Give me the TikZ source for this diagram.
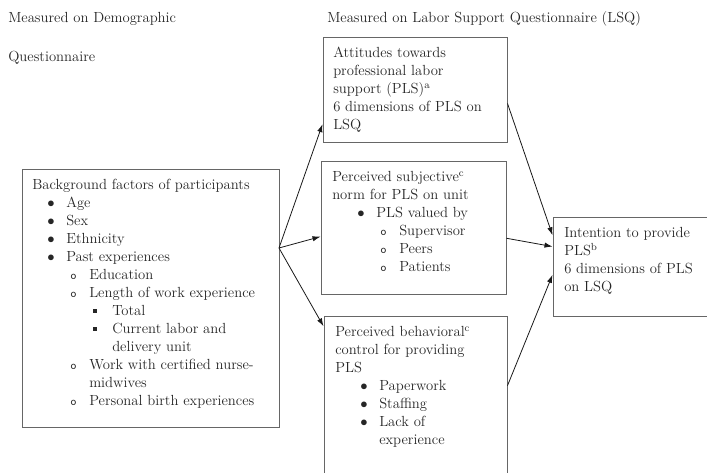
\documentclass[tikz,border=0pt]{standalone}
\usetikzlibrary{arrows.meta}

% one unit of the drawing grid
\newdimen\pxu \pxu=0.75pt
% list item: indent, marker, then the item text
\newcommand{\itm}[2]{\hspace*{#1\pxu}\makebox[19\pxu][l]{#2}}
\newcommand{\dotb}{$\bullet$}
\newcommand{\ringb}{{\fontsize{9}{9}\selectfont\ttfamily o}}
\newcommand{\sqb}{\rule[0.2em]{0.26em}{0.26em}}

\tikzset{
  box/.style={draw=black!60, line width=0.75pt, inner sep=0pt},
  txt/.style={anchor=north west, inner sep=0pt, align=left,
    font=\fontsize{11}{13.5}\selectfont, text=black!85},
  link/.style={-{Latex[length=6pt,width=4pt]}, line width=0.6pt, black!90}
}

\begin{document}
\begin{tikzpicture}[x=0.75pt,y=-0.75pt]
\useasboundingbox (0,0) rectangle (707,473);
\clip (0,0) rectangle (707,473);

% column headings
\node[txt] (demog) at (8,12) {Measured on Demographic};
\node[txt] (demogq) at (8,51) {Questionnaire};
\node[txt] (lsqhead) at (327,11) {Measured on Labor Support Questionnaire (LSQ)};

% boxes
\node[box, minimum width=257\pxu, minimum height=258\pxu] (bg) at (150.5,299) {};
\node[box, minimum width=184\pxu, minimum height=105\pxu] (att) at (415,90.5) {};
\node[box, minimum width=185\pxu, minimum height=133\pxu] (sub) at (413.5,228.5) {};
\node[box, minimum width=183\pxu, minimum height=173\pxu] (beh) at (415.5,403.5) {};
\node[box, minimum width=167\pxu, minimum height=99\pxu] (int) at (636.5,267.5) {};

% box texts
\node[txt] (bgtext) at (32,179) {Background factors of participants\\
\itm{15}{\dotb}Age\\
\itm{15}{\dotb}Sex\\
\itm{15}{\dotb}Ethnicity\\
\itm{15}{\dotb}Past experiences\\
\itm{38}{\ringb}Education\\
\itm{38}{\ringb}Length of work experience\\
\itm{61}{\sqb}Total\\
\itm{61}{\sqb}Current labor and\\
\hspace*{80\pxu}delivery unit\\
\itm{38}{\ringb}Work with certified nurse-\\
\hspace*{57\pxu}midwives\\
\itm{38}{\ringb}Personal birth experiences};

\node[txt] (atttext) at (333,47) {Attitudes towards\\
professional labor\\
support (PLS)\textsuperscript{a}\\
6 dimensions of PLS on\\
LSQ};

\node[txt] (subtext) at (332,171) {Perceived subjective\textsuperscript{c}\\
norm for PLS on unit\\
\itm{25}{\dotb}PLS valued by\\
\itm{48}{\ringb}Supervisor\\
\itm{48}{\ringb}Peers\\
\itm{48}{\ringb}Patients};

\node[txt] (behtext) at (335,326) {Perceived behavioral\textsuperscript{c}\\
control for providing\\
PLS\\
\itm{25}{\dotb}Paperwork\\
\itm{25}{\dotb}Staffing\\
\itm{25}{\dotb}Lack of\\
\hspace*{44\pxu}experience};

\node[txt] (inttext) at (564,227) {Intention to provide\\
PLS\textsuperscript{b}\\
6 dimensions of PLS\\
on LSQ};

% paths between constructs
\coordinate (fork) at (279,248);
\draw[link] (fork) -- (att.200);
\draw[link] (fork) -- (sub.185);
\draw[link] (fork) -- (beh.140);
\draw[link] (att.-8) -- (int.159);
\draw[link] (sub.-6) -- (int.166);
\draw[link] (beh.11) -- (int.185);
\end{tikzpicture}
\end{document}
